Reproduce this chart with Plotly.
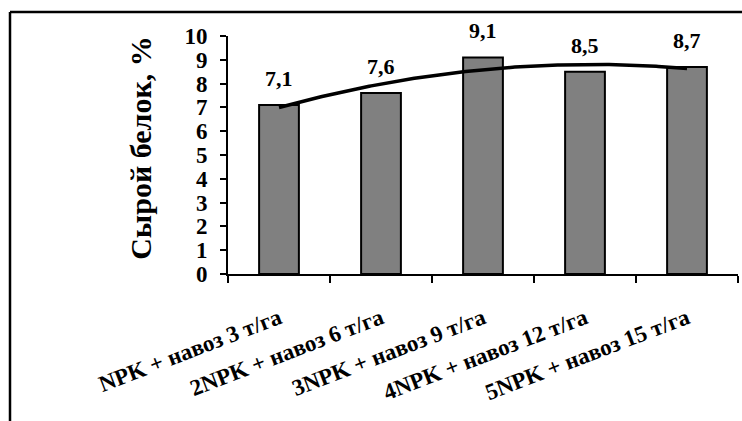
import numpy as np
import plotly.graph_objects as go

categories = ["NPK + навоз 3 т/га", "2NPK + навоз 6 т/га", "3NPK + навоз 9 т/га",
              "4NPK + навоз 12 т/га", "5NPK + навоз 15 т/га"]
values = [7.1, 7.6, 9.1, 8.5, 8.7]
labels = ["7,1", "7,6", "9,1", "8,5", "8,7"]
y_title = "Сырой белок, %"

FONT = "Liberation Serif"

# polynomial (2nd order) trendline derived from the data
idx = np.arange(len(values))
coef = np.polyfit(idx, values, 2)
xt = np.linspace(0, len(values) - 1, 200)
yt = np.polyval(coef, xt)

fig = go.Figure()
fig.add_trace(go.Bar(
    x=categories, y=values, width=0.39,
    marker=dict(color="#808080", line=dict(color="black", width=2)),
    showlegend=False, hoverinfo="skip",
))
fig.add_trace(go.Scatter(
    x=xt, y=yt, xaxis="x2", mode="lines",
    line=dict(color="black", width=3.5), showlegend=False, hoverinfo="skip",
))

for c, v, t in zip(categories, values, labels):
    fig.add_annotation(x=c, y=v, text="<b>%s</b>" % t, showarrow=False,
                       yanchor="bottom", yshift=12,
                       font=dict(family=FONT, size=22, color="black"))

# axis title
fig.add_annotation(xref="paper", yref="paper", x=(141 - 228) / 510, y=0.53,
                   text="<b>%s</b>" % y_title, textangle=-90, showarrow=False,
                   xanchor="center", yanchor="middle",
                   font=dict(family=FONT, size=30, color="black"))

# outer frame (left and top edges)
fx = (10 - 228) / 510
fy = (274 - 12) / 238
fig.add_shape(type="line", xref="paper", yref="paper", x0=fx, x1=fx, y0=-1, y1=fy,
              line=dict(color="black", width=2.5))
fig.add_shape(type="line", xref="paper", yref="paper", x0=fx, x1=2, y0=fy, y1=fy,
              line=dict(color="black", width=2.5))

fig.update_layout(
    width=742, height=421,
    margin=dict(l=228, r=4, t=36, b=147),
    paper_bgcolor="white", plot_bgcolor="white",
    xaxis=dict(type="category", tickson="boundaries", ticks="outside", ticklen=7,
               tickwidth=2, tickcolor="black", showline=True, linecolor="black",
               linewidth=2, showgrid=False, tickangle=-21, ticklabelstandoff=20,
               tickfont=dict(family=FONT, size=23, color="black"),
               range=[-0.5, 4.5]),
    xaxis2=dict(overlaying="x", range=[-0.5, 4.5], visible=False),
    yaxis=dict(range=[0, 10], dtick=1, ticks="outside", ticklen=6, tickwidth=2,
               tickcolor="black", showline=True, linecolor="black", linewidth=2,
               showgrid=False, zeroline=False, ticklabelstandoff=8,
               tickfont=dict(family=FONT, size=23, color="black")),
    bargap=0.61,
)
fig.update_xaxes(tickprefix="<b>", ticksuffix="</b>", selector=dict(type="category"))
fig.update_yaxes(tickprefix="<b>", ticksuffix="</b>")

fig.write_html("out.html")
